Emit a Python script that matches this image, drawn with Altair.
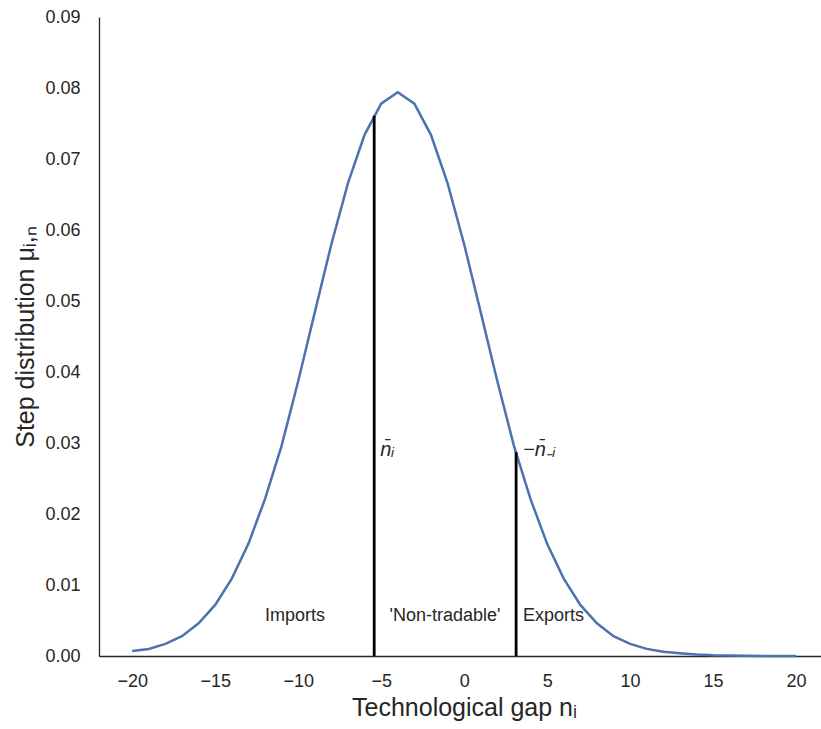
import altair as alt
import pandas as pd

# Technological gap n and step distribution mu
n_vals = list(range(-20, 21))
mu_vals = [0.0007, 0.0010, 0.0017, 0.0028, 0.0046, 0.0072, 0.0109, 0.0158, 0.0221, 0.0296,
           0.0387, 0.0484, 0.0580, 0.0666, 0.0734, 0.0778, 0.0794, 0.0778, 0.0734, 0.0666,
           0.0580, 0.0484, 0.0387, 0.0296, 0.0221, 0.0158, 0.0109, 0.0072, 0.0046, 0.0028,
           0.0017, 0.0010, 0.0006, 0.0004, 0.0002, 0.0001, 0.00006, 0.00003, 0.00001, 0.00001, 0.0]

# cut-off lines
cut_x = [-5.42, 3.13]
cut_top = [0.0761, 0.0287]

# math annotations
math_x = [-5.05, 3.55]
math_y = [0.0282, 0.0282]
math_text = ["n̄ᵢ", "−n̄₋ᵢ"]

# region annotations
reg_x = [-12.0, -4.5, 3.55]
reg_y = [0.005, 0.005, 0.005]
reg_text = ["Imports", "'Non-tradable'", "Exports"]

x_ticks = [-20, -15, -10, -5, 0, 5, 10, 15, 20]
y_ticks = [0.0, 0.01, 0.02, 0.03, 0.04, 0.05, 0.06, 0.07, 0.08, 0.09]

curve = pd.DataFrame({"n": n_vals, "mu": mu_vals})
cuts = pd.DataFrame({"x": cut_x, "y0": [0.0, 0.0], "y1": cut_top})
math = pd.DataFrame({"x": math_x, "y": math_y, "t": math_text})
reg = pd.DataFrame({"x": reg_x, "y": reg_y, "t": reg_text})

FONT = "Liberation Sans"
TXT = "#262626"

xs = alt.Scale(domain=[-22, 21.5], nice=False, zero=False)
ys = alt.Scale(domain=[0, 0.09], nice=False)

line = alt.Chart(curve).mark_line(color="#4C72B0", strokeWidth=2.5).encode(
    x=alt.X("n:Q", scale=xs,
            axis=alt.Axis(values=x_ticks, title="Technological gap nᵢ", grid=False,
                          ticks=False, labelPadding=16, titlePadding=5,
                          titleX=365, titleAlign="center")),
    y=alt.Y("mu:Q", scale=ys,
            axis=alt.Axis(values=y_ticks, format=".2f", title="Step distribution μᵢ,ₙ",
                          grid=False, ticks=False, labelPadding=19, titlePadding=6)),
)

rules = alt.Chart(cuts).mark_rule(color="black", strokeWidth=2.8).encode(
    x=alt.X("x:Q", scale=xs), y=alt.Y("y0:Q", scale=ys), y2="y1:Q"
)

math_texts = alt.Chart(math).mark_text(align="left", baseline="alphabetic", fontSize=20,
                                       font=FONT, fontStyle="italic", color=TXT).encode(
    x=alt.X("x:Q", scale=xs), y=alt.Y("y:Q", scale=ys), text="t:N"
)

reg_texts = alt.Chart(reg).mark_text(align="left", baseline="alphabetic", fontSize=18,
                                     font=FONT, color=TXT).encode(
    x=alt.X("x:Q", scale=xs), y=alt.Y("y:Q", scale=ys), text="t:N"
)

chart = alt.layer(line, rules, math_texts, reg_texts).properties(
    width=722, height=639,
    background="white",
    autosize=alt.AutoSizeParams(type="none"),
    padding={"left": 99, "top": 17, "right": 0, "bottom": 73},
).configure_view(stroke=None).configure_axis(
    domainColor=TXT, domainWidth=1.3, labelColor=TXT, titleColor=TXT,
    labelFont=FONT, titleFont=FONT, labelFontSize=18, titleFontSize=25,
    titleFontWeight="normal",
)

chart.save("out.html", embed_options={"renderer": "svg", "actions": False})
